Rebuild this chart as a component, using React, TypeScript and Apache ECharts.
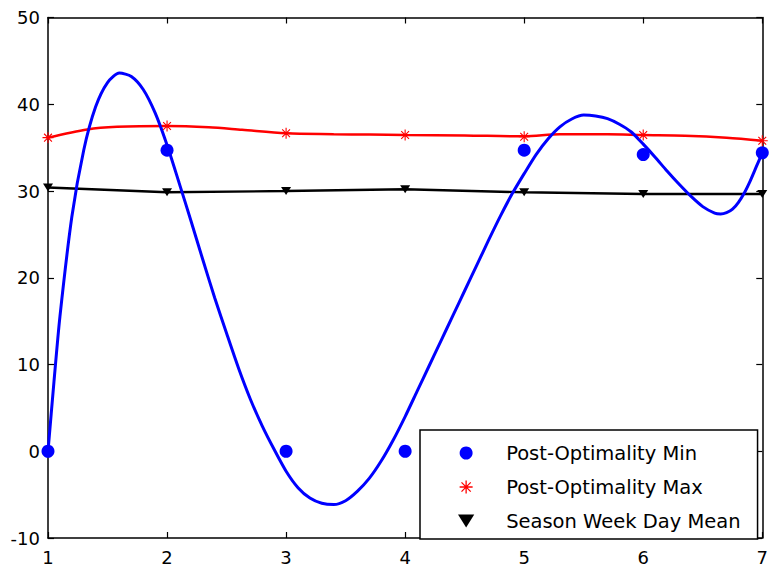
import React, { useEffect, useRef } from "react";
import * as echarts from "echarts";

const days = [1, 2, 3, 4, 5, 6, 7];
const minValues = [0, 34.7, 0, 0, 34.7, 34.2, 34.4];
const maxValues = [36.15, 37.5, 36.65, 36.46, 36.25, 36.46, 35.8];
const meanValues = [30.4, 29.85, 30.0, 30.2, 29.85, 29.65, 29.65];

// blue fitted curve
const curveX = [
  1.0, 1.05, 1.1, 1.2, 1.3, 1.4, 1.5, 1.6, 1.7, 1.8, 1.9, 2.0, 2.1, 2.2, 2.3, 2.4, 2.5, 2.6, 2.7,
  2.8, 2.9, 3.0, 3.1, 3.2, 3.3, 3.4, 3.5, 3.6, 3.7, 3.8, 3.9, 4.0, 4.1, 4.2, 4.3, 4.4, 4.5, 4.6,
  4.7, 4.8, 4.9, 5.0, 5.1, 5.2, 5.3, 5.4, 5.5, 5.6, 5.7, 5.8, 5.9, 6.0, 6.1, 6.2, 6.3, 6.4, 6.5,
  6.6, 6.65, 6.7, 6.75, 6.8, 6.85, 6.9, 6.95, 7.0,
];
const minCurveY = [
  0, 8, 15.5, 27, 34.7, 39.7, 42.5, 43.6, 43.2, 41.7, 39.0, 35.3, 31.0, 26.6, 22.1, 17.7, 13.6,
  9.6, 6.0, 2.9, 0.2, -2.3, -4.2, -5.4, -6.0, -6.15, -5.7, -4.6, -3.1, -1.1, 1.3, 4.0, 6.9, 9.8,
  12.7, 15.6, 18.5, 21.4, 24.3, 27.1, 29.7, 32.0, 34.2, 36.0, 37.4, 38.3, 38.75, 38.65, 38.35,
  37.7, 36.8, 35.4, 33.9, 32.3, 30.8, 29.4, 28.2, 27.45, 27.35, 27.5, 27.9, 28.7, 29.8, 31.2,
  32.8, 34.4,
];
// red curve
const maxCurve: [number, number][] = [
  [1, 36.15], [1.33, 37.1], [1.58, 37.4], [2, 37.5], [2.35, 37.35], [2.63, 37.05], [3, 36.65],
  [3.4, 36.55], [3.7, 36.5], [4, 36.46], [4.5, 36.4], [5, 36.3], [5.3, 36.55], [5.7, 36.55],
  [6, 36.46], [6.35, 36.38], [6.7, 36.15], [7, 35.8],
];

const xTicks = [1, 7, 1];
const yTicks = [-10, 50, 10];

const STAR =
  "path://M9 0 L11 0 L11 20 L9 20 Z M0 9 L20 9 L20 11 L0 11 Z M3.6 2.2 L17.8 16.4 L16.4 17.8 L2.2 3.6 Z M16.4 2.2 L17.8 3.6 L3.6 17.8 L2.2 16.4 Z";
const TRI_DOWN = "path://M0 0 L10 0 L5 8 Z";

const FONT = "'DejaVu Sans', sans-serif";

export default function App() {
  const ref = useRef<HTMLDivElement>(null);
  useEffect(() => {
    if (!ref.current) return;
    const chart = echarts.init(ref.current, undefined, { renderer: "svg" });
    const axisLine = { show: true, onZero: false, lineStyle: { color: "#000", width: 1.5 } };
    const tick = { show: true, inside: true, length: 6, lineStyle: { color: "#000", width: 1.2 } };
    const label = { color: "#000", fontSize: 18, fontFamily: FONT };
    chart.setOption({
      animation: false,
      backgroundColor: "#fff",
      grid: { left: 48, right: 4, top: 17.5, bottom: 30, containLabel: false },
      xAxis: [
        {
          type: "value", min: xTicks[0], max: xTicks[1], interval: xTicks[2], position: "bottom",
          axisLine, axisTick: tick, splitLine: { show: false },
          axisLabel: { ...label, margin: 10 },
        },
        {
          type: "value", min: xTicks[0], max: xTicks[1], interval: xTicks[2], position: "top",
          axisLine, axisTick: tick, splitLine: { show: false }, axisLabel: { show: false },
        },
      ],
      yAxis: [
        {
          type: "value", min: yTicks[0], max: yTicks[1], interval: yTicks[2], position: "left",
          axisLine, axisTick: tick, splitLine: { show: false },
          axisLabel: { ...label, margin: 8 },
        },
        {
          type: "value", min: yTicks[0], max: yTicks[1], interval: yTicks[2], position: "right",
          axisLine, axisTick: tick, splitLine: { show: false }, axisLabel: { show: false },
        },
      ],
      legend: {
        orient: "vertical",
        left: 420,
        top: 430,
        itemWidth: 70,
        itemHeight: 13,
        itemGap: 14,
        padding: [13, 17, 8, 38],
        backgroundColor: "#fff",
        borderColor: "#000",
        borderWidth: 1.5,
        borderRadius: 0,
        textStyle: { color: "#000", fontSize: 19.5, fontFamily: FONT, lineHeight: 14 },
        selectedMode: false,
        data: [
          { name: "Post-Optimality Min", icon: "circle" },
          { name: "Post-Optimality Max", icon: STAR },
          { name: "Season Week Day Mean", icon: TRI_DOWN },
        ],
      },
      series: [
        {
          type: "line", name: "minCurve", data: curveX.map((x, i) => [x, minCurveY[i]]),
          smooth: 0.25, showSymbol: false,
          lineStyle: { color: "#0000ff", width: 3 }, z: 3,
        },
        {
          type: "line", name: "maxCurve", data: maxCurve, smooth: 0.3, showSymbol: false,
          lineStyle: { color: "#ff0000", width: 2.5 }, z: 2,
        },
        {
          type: "line", name: "meanCurve", data: days.map((d, i) => [d, meanValues[i]]),
          showSymbol: false, lineStyle: { color: "#000", width: 2.4 }, z: 2,
        },
        {
          type: "scatter", name: "Post-Optimality Min", data: days.map((d, i) => [d, minValues[i]]),
          symbol: "circle", symbolSize: 13, itemStyle: { color: "#0000ff", opacity: 1 }, z: 4,
        },
        {
          type: "scatter", name: "Post-Optimality Max", data: days.map((d, i) => [d, maxValues[i]]),
          symbol: STAR, symbolSize: 11, itemStyle: { color: "#ff0000", opacity: 1 }, z: 4,
        },
        {
          type: "scatter", name: "Season Week Day Mean", data: days.map((d, i) => [d, meanValues[i]]),
          symbol: TRI_DOWN, symbolSize: [10, 8], itemStyle: { color: "#000", opacity: 1 }, z: 4,
        },
      ],
    });
    return () => chart.dispose();
  }, []);
  return (
    <div
      ref={ref}
      style={{ position: "fixed", left: 0, top: 0, width: 771, height: 568, background: "#fff" }}
    />
  );
}
